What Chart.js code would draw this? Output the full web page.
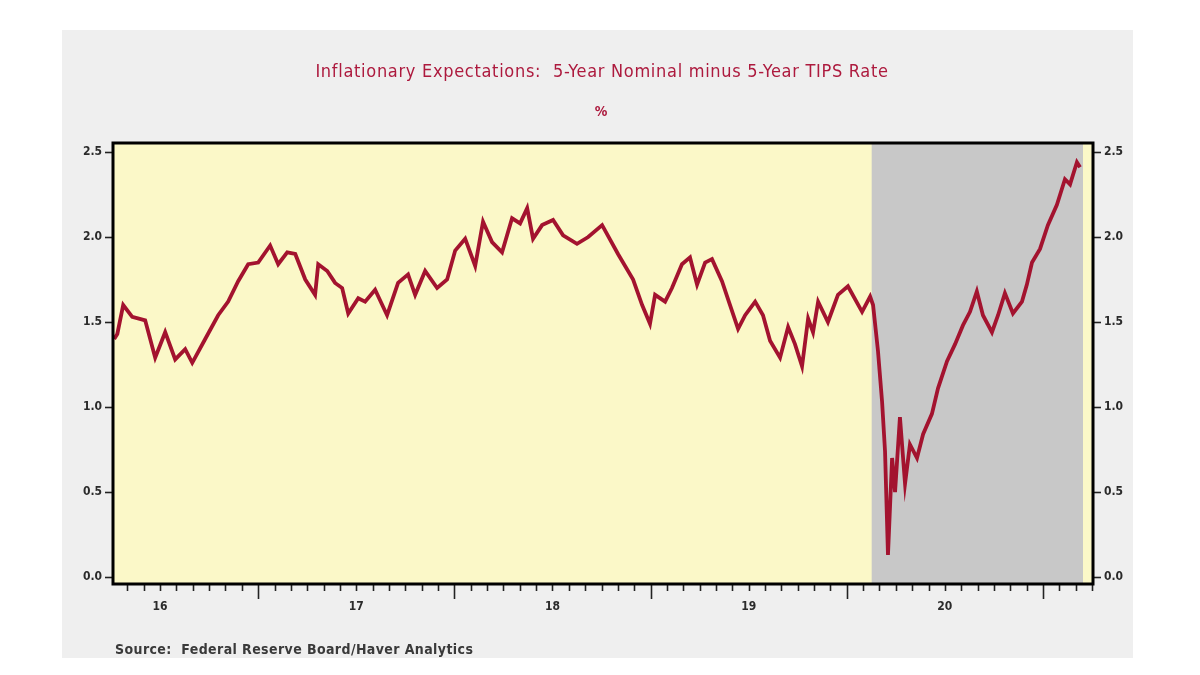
<!DOCTYPE html>
<html>
<head>
<meta charset="utf-8">
<script src="https://cdn.jsdelivr.net/npm/chart.js@4.4.1/dist/chart.umd.min.js"></script>
<style>
  html, body { margin: 0; padding: 0; background: #fff; }
  #wrap { width: 1200px; height: 675px; }
</style>
</head>
<body>
<div id="wrap"><canvas id="chart" width="1200" height="675"></canvas></div>
<script>
// 5-year breakeven (nominal minus TIPS), % -- dates as decimal years
var dates = [
  2016.266, 2016.282, 2016.312, 2016.358, 2016.424, 2016.475, 2016.526, 2016.577, 2016.628, 2016.664,
  2016.730, 2016.796, 2016.847, 2016.898, 2016.949, 2017.000, 2017.061, 2017.102, 2017.148, 2017.189,
  2017.240, 2017.290, 2017.306, 2017.352, 2017.392, 2017.428, 2017.459, 2017.510, 2017.545, 2017.596,
  2017.657, 2017.713, 2017.764, 2017.800, 2017.851, 2017.912, 2017.963, 2018.004, 2018.055, 2018.106,
  2018.146, 2018.192, 2018.243, 2018.294, 2018.335, 2018.371, 2018.401, 2018.447, 2018.503, 2018.554,
  2018.625, 2018.682, 2018.753, 2018.834, 2018.911, 2018.957, 2018.997, 2019.023, 2019.074, 2019.109,
  2019.160, 2019.201, 2019.237, 2019.278, 2019.313, 2019.364, 2019.405, 2019.446, 2019.482, 2019.533,
  2019.573, 2019.609, 2019.660, 2019.701, 2019.736, 2019.772, 2019.803, 2019.828, 2019.854, 2019.904,
  2019.955, 2020.006, 2020.078, 2020.119, 2020.134, 2020.159, 2020.180, 2020.195, 2020.210, 2020.231,
  2020.246, 2020.271, 2020.297, 2020.322, 2020.358, 2020.389, 2020.434, 2020.465, 2020.511, 2020.552,
  2020.592, 2020.628, 2020.663, 2020.694, 2020.740, 2020.771, 2020.806, 2020.847, 2020.893, 2020.918,
  2020.944, 2020.985, 2021.025, 2021.071, 2021.112, 2021.138, 2021.173, 2021.189
];
var breakeven = [
  1.40, 1.43, 1.60, 1.53, 1.51, 1.29, 1.44, 1.28, 1.34, 1.26,
  1.40, 1.54, 1.62, 1.74, 1.84, 1.85, 1.95, 1.84, 1.91, 1.90,
  1.75, 1.66, 1.84, 1.80, 1.73, 1.70, 1.55, 1.64, 1.62, 1.69,
  1.54, 1.73, 1.78, 1.66, 1.80, 1.70, 1.75, 1.92, 1.99, 1.83,
  2.09, 1.97, 1.91, 2.11, 2.08, 2.17, 1.99, 2.07, 2.10, 2.01,
  1.96, 2.00, 2.07, 1.90, 1.75, 1.60, 1.49, 1.66, 1.62, 1.70,
  1.84, 1.88, 1.72, 1.85, 1.87, 1.74, 1.60, 1.46, 1.54, 1.62,
  1.54, 1.39, 1.29, 1.47, 1.37, 1.24, 1.52, 1.44, 1.62, 1.50,
  1.66, 1.71, 1.56, 1.65, 1.60, 1.33, 1.03, 0.74, 0.13, 0.70,
  0.50, 0.94, 0.55, 0.78, 0.70, 0.84, 0.96, 1.11, 1.27, 1.37,
  1.48, 1.56, 1.68, 1.54, 1.44, 1.54, 1.67, 1.55, 1.62, 1.72,
  1.85, 1.93, 2.07, 2.19, 2.34, 2.31, 2.44, 2.41
];
var yearLabels = ['16', '17', '18', '19', '20'];
var yTicks = [0.0, 0.5, 1.0, 1.5, 2.0, 2.5];
var recession = [2020.127, 2021.204];

var xMin = 2016.26, xMax = 2021.255;
var font = '"DejaVu Sans Condensed", "DejaVu Sans", sans-serif';

var frame = {
  id: 'frame',
  beforeDraw: function (chart) {
    var ctx = chart.ctx, a = chart.chartArea, x = chart.scales.x;
    ctx.save();
    ctx.fillStyle = '#ffffff';
    ctx.fillRect(0, 0, chart.width, chart.height);
    ctx.fillStyle = '#efefef';
    ctx.fillRect(62, 30, 1071, 628);
    ctx.fillStyle = '#fbf8c8';
    ctx.fillRect(a.left, a.top, a.right - a.left, a.bottom - a.top);
    // shaded period
    var x0 = x.getPixelForValue(recession[0]), x1 = x.getPixelForValue(recession[1]);
    ctx.fillStyle = '#c8c8c8';
    ctx.fillRect(x0, a.top, x1 - x0, a.bottom - a.top);
    ctx.restore();
  },
  afterDraw: function (chart) {
    var ctx = chart.ctx, a = chart.chartArea, x = chart.scales.x;
    ctx.save();
    // monthly / yearly tick marks under the x axis
    ctx.strokeStyle = '#222';
    ctx.lineWidth = 1.6;
    for (var m = Math.ceil(xMin * 12); m <= Math.floor(xMax * 12); m++) {
      var px = Math.round(x.getPixelForValue(m / 12)) + 0.5;
      var len = (m % 12 === 0) ? 15 : 7;
      ctx.beginPath();
      ctx.moveTo(px, a.bottom);
      ctx.lineTo(px, a.bottom + len);
      ctx.stroke();
    }
    // frame
    ctx.lineWidth = 3;
    ctx.strokeStyle = '#000';
    ctx.strokeRect(a.left, a.top, a.right - a.left, a.bottom - a.top);
    // texts
    ctx.fillStyle = '#ad1a3e';
    ctx.textAlign = 'center';
    ctx.textBaseline = 'middle';
    ctx.letterSpacing = '0.7px';
    ctx.font = '18px ' + font;
    ctx.fillText('Inflationary Expectations:  5-Year Nominal minus 5-Year TIPS Rate', 602, 72);
    ctx.letterSpacing = '0px';
    ctx.font = 'bold 14px ' + font;
    ctx.fillText('%', 601, 112);
    ctx.fillStyle = '#3a3a3a';
    ctx.textAlign = 'left';
    ctx.letterSpacing = '0.4px';
    ctx.font = 'bold 14px ' + font;
    ctx.fillText('Source:  Federal Reserve Board/Haver Analytics', 115, 650);
    ctx.restore();
  }
};

function yAxis(pos, w) {
  return {
    type: 'linear',
    position: pos,
    min: -0.041,
    max: 2.553,
    afterBuildTicks: function (s) { s.ticks = yTicks.map(function (v) { return { value: v }; }); },
    afterFit: function (s) { s.width = w; },
    grid: { drawOnChartArea: false, drawTicks: true, tickLength: 8, tickColor: '#222', tickWidth: 1.6 },
    border: { display: false },
    ticks: {
      padding: 3,
      color: '#2b2b2b',
      font: { family: font, size: 12, weight: 'bold' },
      callback: function (v) { return Number(v).toFixed(1); }
    }
  };
}

new Chart(document.getElementById('chart'), {
  type: 'line',
  data: {
    datasets: [{
      label: '5-Year Breakeven',
      data: dates.map(function (d, i) { return { x: d, y: breakeven[i] }; }),
      borderColor: '#a3132f',
      borderWidth: 3.8,
      pointRadius: 0,
      tension: 0,
      fill: false
    }]
  },
  options: {
    responsive: false,
    animation: false,
    layout: { padding: { top: 143, left: 0, right: 0, bottom: 0 } },
    plugins: { legend: { display: false }, tooltip: { enabled: false } },
    scales: {
      x: {
        type: 'linear',
        min: xMin,
        max: xMax,
        afterBuildTicks: function (s) { s.ticks = yearLabels.map(function (l, i) { return { value: 2016.5 + i }; }); },
        afterFit: function (s) { s.height = 91; },
        grid: { display: false, drawTicks: false },
        border: { display: false },
        ticks: {
          autoSkip: false,
          maxRotation: 0,
          padding: 16,
          color: '#2b2b2b',
          font: { family: font, size: 12, weight: 'bold' },
          callback: function (v, i) { return yearLabels[i]; }
        }
      },
      y: yAxis('left', 113),
      y2: yAxis('right', 107)
    }
  },
  plugins: [frame]
});
</script>
</body>
</html>
